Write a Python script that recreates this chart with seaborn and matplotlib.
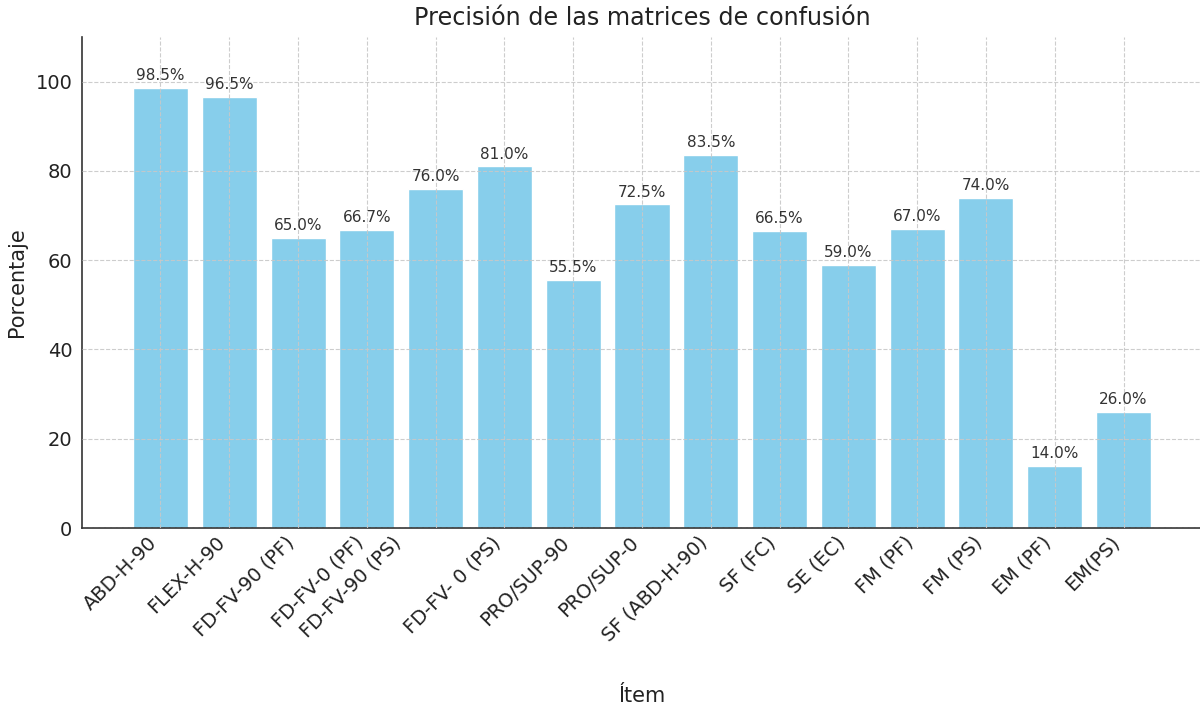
import matplotlib
matplotlib.use("Agg")
import matplotlib.pyplot as plt
import seaborn as sns

# Data
items = [
    "ABD-H-90", "FLEX-H-90", "FD-FV-90 (PF)", "FD-FV-0 (PF)", "FD-FV-90 (PS)\n\n",
    "FD-FV- 0 (PS)", "PRO/SUP-90", "PRO/SUP-0", "SF (ABD-H-90)", "SF (FC)",
    "SE (EC)", "FM (PF)", "FM (PS)", "EM (PF)", "EM(PS)",
]
precision = [98.5, 96.5, 65.0, 66.7, 76.0, 81.0, 55.5, 72.5, 83.5, 66.5,
             59.0, 67.0, 74.0, 14.0, 26.0]
y_ticks = [0, 20, 40, 60, 80, 100]

sns.set_style("white")
plt.rcParams['font.family'] = ['DejaVu Sans']

fig = plt.figure(figsize=(12, 7.1), dpi=100)
ax = fig.add_axes([82 / 1200, 1 - 528 / 710, 1120 / 1200, 491 / 710])

sns.barplot(x=items, y=precision, color="skyblue", saturation=1,
            width=0.8, ax=ax, zorder=1)

# value labels above each bar
for i, v in enumerate(precision):
    ax.annotate(f"{v:.1f}%", (i, v), xytext=(0, 3.5), textcoords="offset points",
                ha="center", va="bottom", fontsize=11, color="#333333")

ax.set_xlim(-1.14, len(items) - 1 + 1.14)
ax.set_ylim(0, 110)
ax.set_yticks(y_ticks)
ax.grid(True, linestyle="--", color="#c8c8c8", linewidth=0.8, alpha=0.9)
ax.set_axisbelow(False)
for line in ax.get_xgridlines() + ax.get_ygridlines():
    line.set_zorder(1.5)

for s in ["top", "right"]:
    ax.spines[s].set_visible(False)
for s in ["left", "bottom"]:
    ax.spines[s].set_color("#333333")
    ax.spines[s].set_linewidth(1.2)

ax.tick_params(axis="both", width=1, labelsize=14, colors="#222222")
ax.tick_params(axis="x", direction="in", length=5)
ax.tick_params(axis="y", direction="out", length=5, pad=2)
plt.setp(ax.get_xticklabels(), rotation=45, ha="right")

ax.set_title("Precisión de las matrices de confusión", fontsize=17.2,
             color="#222222", pad=8.5)
ax.set_xlabel("Ítem", fontsize=15, color="#222222", labelpad=10)
ax.set_ylabel("Porcentaje", fontsize=15, color="#222222", labelpad=6)

fig.savefig("out.png", dpi=100, facecolor="white")
